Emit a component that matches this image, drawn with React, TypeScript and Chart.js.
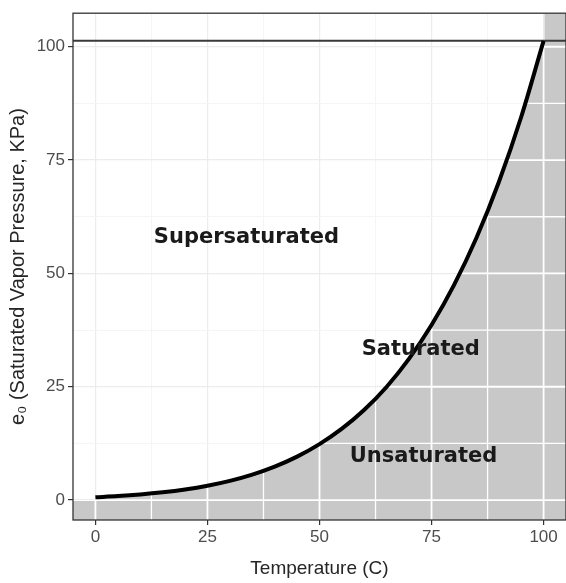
import React, { useEffect, useRef } from 'react';
import { Chart, registerables } from 'chart.js';

Chart.register(...registerables);

// Values
const temperatureC = [0, 5, 10, 15, 20, 25, 30, 35, 40, 45, 50, 55, 60, 65, 70, 75, 80, 85, 90, 95, 100];
const vaporPressureKPa = [0.61, 0.87, 1.23, 1.71, 2.34, 3.17, 4.24, 5.62, 7.38, 9.58, 12.34, 15.74, 19.92, 25.0, 31.2, 38.6, 47.4, 57.8, 70.1, 84.5, 101.3];
const atmosphericPressureKPa = 101.3;
const xMin = -5;
const xMax = 105;
const yMin = -4.4;
const yMax = 107.4;
const gridValues = [0, 12.5, 25, 37.5, 50, 62.5, 75, 87.5, 100];
const labeledTicks = [0, 25, 50, 75, 100];
const regionLabels = ['Supersaturated', 'Saturated', 'Unsaturated'];
const regionLabelX = [33.7, 72.6, 73.2];
const regionLabelY = [57.8, 33.3, 9.6];

const xTitle = 'Temperature (C)';
const yTitle = 'e\u2080 (Saturated Vapor Pressure, KPa)';

const GREY = 'rgb(200,200,200)';
const SANS = '"Liberation Sans", Arial, sans-serif';

export default function App() {
  const canvasRef = useRef<HTMLCanvasElement | null>(null);

  useEffect(() => {
    const canvas = canvasRef.current;
    if (!canvas) return;

    const curve = temperatureC.map((t, i) => ({ x: t, y: vaporPressureKPa[i] }));
    const lastT = temperatureC[temperatureC.length - 1];
    // boundary of the unsaturated (grey) region
    const greyBoundary = [
      { x: xMin, y: 0 },
      { x: temperatureC[0], y: 0 },
      ...curve,
      { x: lastT, y: yMax },
      { x: xMax, y: yMax },
    ];
    const hline = [
      { x: xMin, y: atmosphericPressureKPa },
      { x: xMax, y: atmosphericPressureKPa },
    ];

    const isMajor = (v: number) => labeledTicks.includes(v);

    const bgPlugin = {
      id: 'bg',
      beforeDraw(chart: any) {
        const { ctx, width, height } = chart;
        ctx.save();
        ctx.fillStyle = '#ffffff';
        ctx.fillRect(0, 0, width, height);
        ctx.restore();
      },
      afterDatasetDraw(chart: any, args: any) {
        if (args.index !== 0) return;
        const meta = chart.getDatasetMeta(0);
        const { ctx, chartArea: a } = chart;
        const xs = chart.scales.x;
        const ys = chart.scales.y;
        ctx.save();
        ctx.beginPath();
        ctx.moveTo(a.left, a.bottom);
        meta.data.forEach((p: any) => ctx.lineTo(p.x, p.y));
        ctx.lineTo(a.right, a.bottom);
        ctx.closePath();
        ctx.clip();
        ctx.strokeStyle = '#ffffff';
        gridValues.forEach((v) => {
          const px = xs.getPixelForValue(v);
          ctx.lineWidth = isMajor(v) ? 1.8 : 1.3;
          ctx.beginPath();
          ctx.moveTo(px, a.top);
          ctx.lineTo(px, a.bottom);
          ctx.stroke();
          const py = ys.getPixelForValue(v);
          ctx.beginPath();
          ctx.moveTo(a.left, py);
          ctx.lineTo(a.right, py);
          ctx.stroke();
        });
        ctx.restore();
      },
      afterDatasetsDraw(chart: any) {
        const { ctx } = chart;
        const xs = chart.scales.x;
        const ys = chart.scales.y;
        ctx.save();
        ctx.fillStyle = '#1a1a1a';
        ctx.font = 'bold 21px "DejaVu Sans"';
        ctx.textAlign = 'center';
        ctx.textBaseline = 'middle';
        regionLabels.forEach((txt, i) => {
          ctx.fillText(txt, xs.getPixelForValue(regionLabelX[i]), ys.getPixelForValue(regionLabelY[i]));
        });
        ctx.restore();
      },
      afterDraw(chart: any) {
        const { ctx, chartArea: a } = chart;
        ctx.save();
        ctx.strokeStyle = '#333333';
        ctx.lineWidth = 1.3;
        ctx.strokeRect(a.left, a.top, a.right - a.left, a.bottom - a.top);
        ctx.restore();
      },
    };

    const chart = new Chart(canvas, {
      type: 'line',
      data: {
        datasets: [
          {
            label: 'Unsaturated',
            data: greyBoundary,
            parsing: false,
            borderWidth: 0,
            borderColor: 'rgba(0,0,0,0)',
            backgroundColor: GREY,
            fill: 'start',
            pointRadius: 0,
            tension: 0,
            order: 3,
          } as any,
          {
            label: 'Atmospheric',
            data: hline,
            parsing: false,
            borderWidth: 2,
            borderColor: '#3a3a3a',
            fill: false,
            pointRadius: 0,
            order: 2,
          } as any,
          {
            label: 'Saturated',
            data: curve,
            parsing: false,
            borderWidth: 4,
            borderColor: '#000000',
            fill: false,
            pointRadius: 0,
            cubicInterpolationMode: 'monotone',
            order: 1,
          } as any,
        ],
      },
      options: {
        animation: false,
        responsive: true,
        maintainAspectRatio: false,
        events: [],
        layout: { padding: { top: 6, right: 0, left: 0, bottom: 0 } },
        plugins: {
          legend: { display: false },
          tooltip: { enabled: false },
        },
        scales: {
          x: {
            type: 'linear',
            min: xMin,
            max: xMax,
            afterBuildTicks: (scale: any) => {
              scale.ticks = gridValues.map((v) => ({ value: v }));
            },
            afterFit: (scale: any) => {
              scale.height = 63;
            },
            border: { display: false },
            grid: {
              color: (c: any) => (isMajor(c.tick?.value) ? '#ececec' : '#f5f5f5'),
              lineWidth: (c: any) => (isMajor(c.tick?.value) ? 1.2 : 1),
              tickColor: (c: any) => (isMajor(c.tick?.value) ? '#333333' : 'rgba(0,0,0,0)'),
              tickLength: 5,
              tickWidth: 1.2,
            },
            ticks: {
              autoSkip: false,
              maxRotation: 0,
              padding: 2,
              color: '#4d4d4d',
              font: { family: SANS, size: 17 },
              callback: (v: any) => (isMajor(Number(v)) ? String(v) : ''),
            },
            title: {
              display: true,
              text: xTitle,
              color: '#262626',
              font: { family: SANS, size: 19 },
              padding: { top: 3, bottom: 3 },
            },
          },
          y: {
            type: 'linear',
            min: yMin,
            max: yMax,
            afterBuildTicks: (scale: any) => {
              scale.ticks = gridValues.map((v) => ({ value: v }));
            },
            afterFit: (scale: any) => {
              scale.width = 73;
            },
            border: { display: false },
            grid: {
              color: (c: any) => (isMajor(c.tick?.value) ? '#ececec' : '#f5f5f5'),
              lineWidth: (c: any) => (isMajor(c.tick?.value) ? 1.2 : 1),
              tickColor: (c: any) => (isMajor(c.tick?.value) ? '#333333' : 'rgba(0,0,0,0)'),
              tickLength: 5,
              tickWidth: 1.2,
            },
            ticks: {
              autoSkip: false,
              padding: 3,
              color: '#4d4d4d',
              font: { family: SANS, size: 17 },
              callback: (v: any) => (isMajor(Number(v)) ? String(v) : ''),
            },
            title: {
              display: true,
              text: yTitle,
              color: '#262626',
              font: { family: SANS, size: 20 },
              padding: { top: 6, bottom: 0 },
            },
          },
        },
      } as any,
      plugins: [bgPlugin],
    });

    return () => chart.destroy();
  }, []);

  return (
    <div style={{ position: 'absolute', left: 0, top: 0, width: 566, height: 583 }}>
      <canvas ref={canvasRef} />
    </div>
  );
}
